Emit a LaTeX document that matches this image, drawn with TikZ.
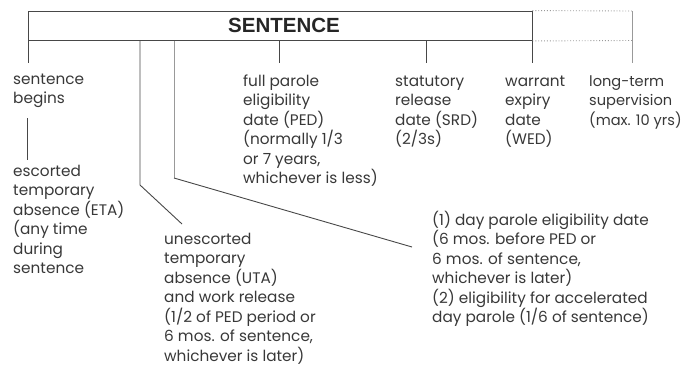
\documentclass[tikz,border=0pt]{standalone}
\usepackage{fontspec}
\setmainfont{Poppins}
\newfontfamily\headfont{Liberation Sans}
\begin{document}
\begin{tikzpicture}[x=1pt,y=-1pt,
  lbl/.style={anchor=base west, inner sep=0pt, align=left, text=black!78,
    font=\fontsize{15.3}{19.5}\selectfont},
  ln/.style={draw=black!72, line width=0.9pt},
  lnlight/.style={draw=black!40, line width=0.9pt},
  dots/.style={draw=black!40, line width=0.9pt, dotted},
  box/.style={draw=black!72, line width=0.9pt, rectangle, inner sep=0pt,
    minimum width=504pt, minimum height=29.5pt}]
\useasboundingbox (0,0) rectangle (686,368);
% main box
\node[box] (sent) at (280,25.75) {};
\node[inner sep=0pt, font=\headfont\bfseries\fontsize{20.5}{24}\selectfont, text=black!85] (title) at (284,25.5) {SENTENCE};
% dotted extension
\coordinate (ext1) at (632,11);
\coordinate (ext2) at (632,40.5);
\coordinate (ext3) at (632,63);
\draw[dots] (sent.north east) -- (ext1);
\draw[dots] (sent.south east) -- (ext2);
\draw[lnlight] (ext1) -- (ext3);
% ticks
\coordinate (t0a) at (28,40.5);  \coordinate (t0b) at (28,63);
\coordinate (t1a) at (279,40.5); \coordinate (t1b) at (279,63);
\coordinate (t2a) at (426,40.5); \coordinate (t2b) at (426,63);
\coordinate (t3a) at (532,40.5); \coordinate (t3b) at (532,63);
\draw[ln] (t0a) -- (t0b);
\draw[ln] (t1a) -- (t1b);
\draw[ln] (t2a) -- (t2b);
\draw[ln] (t3a) -- (t3b);
% labels (anchored at the baseline of their last line)
\node[lbl] (begins) at (13,103.5) {sentence\\begins};
\node[lbl] (eta) at (13,273.5) {escorted\\temporary\\absence (ETA)\\(any time\\during\\sentence};
\node[lbl] (ped) at (243,183.5) {full parole\\eligibility\\date (PED)\\(normally 1/3\\or 7 years,\\whichever is less)};
\node[lbl] (srd) at (395,144.5) {statutory\\release\\date (SRD)\\(2/3s)};
\node[lbl] (wed) at (505,144.5) {warrant\\expiry\\date\\(WED)};
\node[lbl, font=\fontsize{14.6}{19.5}\selectfont] (lts) at (589,125) {long-term\\supervision\\(max. 10 yrs)};
\node[lbl] (uta) at (164,361) {unescorted\\temporary\\absence (UTA)\\and work release\\(1/2 of PED period or\\6 mos. of sentence,\\whichever is later)};
\node[lbl] (day) at (432,322.5) {(1) day parole eligibility date\\(6 mos. before PED or\\6 mos. of sentence,\\whichever is later)\\(2) eligibility for accelerated\\day parole (1/6 of sentence)};
% connector sentence begins -> ETA
\coordinate (b1) at (27,118); \coordinate (b2) at (27,160);
\draw[ln] (b1) -- (b2);
% UTA connector
\coordinate (u0) at (140,40.5); \coordinate (u1) at (140,185); \coordinate (u2) at (182,224);
\draw[ln] (u0) -- (u1) -- (u2);
% day parole connector
\coordinate (d0) at (174,40.5); \coordinate (d1) at (174,178); \coordinate (d2) at (412,247);
\draw[lnlight] (d0) -- (d1);
\draw[ln] (d1) -- (d2);
\end{tikzpicture}
\end{document}
